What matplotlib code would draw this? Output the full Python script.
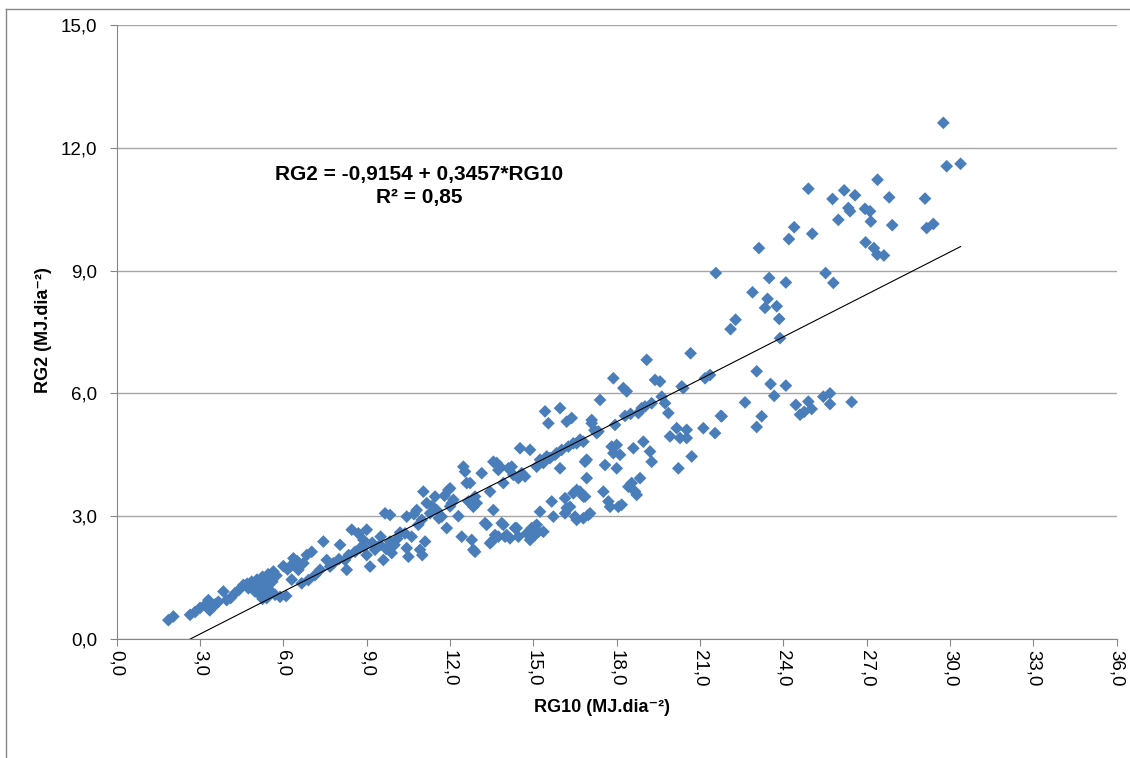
import numpy as np
import matplotlib
matplotlib.use("Agg")
import matplotlib.pyplot as plt
from matplotlib.lines import Line2D
from matplotlib.ticker import FuncFormatter

plt.rcParams['font.family'] = ['Liberation Sans', 'DejaVu Sans']

# coefficienti della retta di regressione
intercept = -0.9154
slope = 0.3457
r2 = 0.85

# coppie (RG10, RG2) stimate dal grafico, divise per zona
obs_low = [
    (1.86, 0.46), (2.04, 0.55), (2.64, 0.59), (2.82, 0.66), (3.00, 0.76),
    (3.18, 0.83), (3.30, 0.95), (3.48, 0.79), (3.66, 0.91), (3.84, 1.16),
    (3.96, 0.95), (4.26, 1.12), (4.56, 1.32), (4.74, 1.24), (4.86, 1.40),
    (4.98, 1.16), (5.10, 1.28), (5.22, 1.44), (5.34, 1.16), (5.46, 1.32),
    (5.52, 1.52), (5.64, 1.65), (5.70, 1.08), (5.88, 1.03), (5.40, 1.00),
    (5.20, 1.05), (5.00, 1.30), (5.30, 1.40), (5.50, 1.20), (4.90, 1.25),
    (5.15, 1.10), (6.24, 1.77), (6.36, 1.97), (6.54, 1.69), (6.72, 1.85),
    (6.84, 2.05), (7.02, 2.13), (6.66, 1.36), (6.90, 1.44), (7.14, 1.56),
    (7.32, 1.69), (7.44, 2.38), (6.40, 1.83), (6.00, 1.78), (6.10, 1.05),
    (6.30, 1.45), (5.25, 1.52), (5.45, 1.58), (4.40, 1.20), (3.55, 0.85),
    (5.05, 1.45), (5.35, 1.25), (5.60, 1.40), (4.70, 1.35), (5.25, 0.98),
    (5.75, 1.55), (6.15, 1.70), (6.50, 1.90), (3.35, 0.70), (4.10, 1.00),
]

obs_mid = [
    (7.56, 1.93), (7.68, 1.77), (7.80, 1.85), (8.04, 2.30), (8.22, 1.93),
    (8.28, 1.69), (8.46, 2.67), (8.58, 2.13), (8.70, 2.58), (8.76, 2.22),
    (8.88, 2.42), (9.00, 2.67), (9.00, 2.05), (9.12, 1.77), (9.30, 2.18),
    (9.48, 2.30), (9.60, 1.93), (9.66, 3.07), (9.84, 3.03), (9.84, 2.38),
    (9.90, 2.10), (10.10, 2.45), (10.38, 2.58), (10.44, 2.99), (10.44, 2.22),
    (10.50, 2.01), (10.62, 2.50), (10.80, 3.15), (10.86, 2.79), (10.92, 2.18),
    (10.98, 2.91), (11.04, 3.60), (11.10, 2.38), (11.16, 3.32), (11.28, 3.07),
    (11.46, 3.48), (11.52, 3.15), (11.70, 2.99), (11.88, 2.71), (11.94, 3.64),
    (12.00, 3.24), (12.12, 3.40), (12.42, 2.50), (12.48, 4.21), (12.54, 4.09),
    (12.60, 3.81), (12.66, 3.36), (12.78, 2.42), (12.84, 2.18), (12.90, 3.48),
    (13.14, 4.05), (13.26, 2.83), (13.44, 3.60), (13.50, 2.38), (13.56, 3.15),
    (8.00, 1.95), (8.35, 2.05), (8.90, 2.25), (9.20, 2.35), (9.50, 2.50),
    (11.00, 2.05), (10.70, 3.05), (11.35, 3.25), (11.60, 2.95), (11.80, 3.50),
    (12.30, 3.00), (12.00, 3.68), (12.06, 3.32), (12.72, 3.81), (12.84, 3.23),
    (12.96, 3.32), (12.90, 2.13), (13.32, 2.79), (13.44, 2.34), (9.70, 2.20),
    (10.20, 2.60), (10.00, 2.30),
]

obs_high = [
    (13.62, 2.54), (13.68, 4.30), (13.80, 4.21), (13.86, 2.83), (13.92, 3.81),
    (14.04, 2.54), (14.22, 4.21), (14.28, 4.01), (14.34, 2.71), (14.52, 4.66),
    (14.58, 4.05), (14.70, 3.97), (14.82, 2.58), (14.88, 4.62), (14.88, 2.42),
    (15.06, 2.75), (15.12, 4.21), (15.24, 3.11), (15.24, 4.38), (15.36, 2.62),
    (15.42, 5.56), (15.48, 4.46), (15.54, 5.27), (15.72, 2.99), (15.78, 4.50),
    (15.96, 5.64), (15.96, 4.17), (16.02, 4.62), (16.14, 3.44), (16.14, 3.07),
    (16.20, 5.31), (16.26, 4.70), (16.32, 3.23), (16.38, 5.40), (16.44, 3.56),
    (16.50, 2.99), (16.56, 4.78), (16.68, 4.87), (16.68, 3.60), (16.80, 2.95),
    (16.86, 3.48), (16.92, 4.38), (16.92, 3.93), (16.98, 3.03), (17.10, 5.27),
    (17.34, 5.07), (17.40, 5.84), (17.52, 3.60), (17.58, 4.25), (17.70, 3.36),
    (17.76, 3.23), (17.82, 4.70), (17.88, 6.37), (17.94, 5.23), (17.88, 4.54),
    (18.00, 4.74), (18.00, 4.17), (18.06, 3.23), (18.12, 4.50), (18.18, 3.28),
    (18.24, 6.13), (18.36, 6.05), (18.42, 3.72), (18.54, 3.81), (18.60, 4.66),
    (18.66, 3.60), (18.72, 3.52), (18.78, 5.52), (18.84, 3.93), (18.90, 5.64),
    (18.96, 4.82), (19.02, 5.68), (19.08, 6.82), (19.20, 4.58), (19.26, 5.76),
    (19.26, 4.33), (19.38, 6.33), (19.56, 6.29), (19.62, 5.92), (19.74, 5.76),
    (19.86, 5.52), (19.92, 4.95), (20.16, 5.15), (20.22, 4.17), (20.28, 4.91),
    (20.34, 6.17), (20.40, 6.13), (20.52, 5.11), (20.52, 4.91), (20.70, 4.46),
    (21.12, 5.15), (21.18, 6.37), (21.36, 6.45), (21.54, 5.03), (21.78, 5.44),
    (20.66, 6.98), (13.74, 2.50), (13.92, 2.79), (13.98, 2.50), (14.16, 2.46),
    (14.40, 2.71), (14.46, 2.50), (14.76, 2.58), (14.94, 2.71), (15.12, 2.79),
    (15.18, 2.62), (15.06, 2.54), (15.66, 3.36), (16.20, 3.20), (16.56, 3.64),
    (16.80, 3.48), (17.04, 3.07), (16.56, 2.91), (16.86, 4.33), (17.10, 5.35),
    (17.28, 5.03), (13.56, 4.33), (13.74, 4.13), (14.10, 4.17), (14.46, 3.93),
    (15.36, 4.30), (15.60, 4.42), (15.84, 4.54), (16.44, 4.78), (16.80, 4.82),
    (18.30, 5.45), (18.50, 5.50), (17.20, 5.10),
]

obs_top = [
    (29.76, 12.61), (29.88, 11.55), (30.38, 11.61), (24.90, 11.00), (27.39, 11.22),
    (25.77, 10.75), (26.19, 10.96), (26.58, 10.84), (26.34, 10.53), (26.40, 10.45),
    (26.94, 10.51), (27.12, 10.45), (27.81, 10.79), (29.10, 10.76), (25.98, 10.24),
    (27.15, 10.20), (27.92, 10.11), (29.16, 10.04), (29.40, 10.14), (24.39, 10.06),
    (24.20, 9.77), (25.04, 9.90), (23.12, 9.55), (26.96, 9.69), (27.26, 9.55),
    (27.38, 9.39), (27.62, 9.37), (21.57, 8.94), (25.52, 8.94), (23.49, 8.82),
    (24.09, 8.71), (25.80, 8.70), (22.89, 8.47), (23.43, 8.31), (23.34, 8.09),
    (23.76, 8.13), (23.85, 7.82), (22.28, 7.80), (22.10, 7.57), (23.88, 7.35),
    (23.04, 6.54), (23.54, 6.23), (24.09, 6.19), (23.67, 5.94), (22.62, 5.78),
    (21.75, 5.45), (23.22, 5.44), (24.45, 5.72), (24.60, 5.48), (24.75, 5.55),
    (24.90, 5.80), (25.02, 5.62), (25.44, 5.92), (25.68, 6.00), (25.68, 5.74),
    (26.46, 5.79), (23.04, 5.18),
]

x_ticks = [0, 3, 6, 9, 12, 15, 18, 21, 24, 27, 30, 33, 36]
y_ticks = [0, 3, 6, 9, 12, 15]

data = np.array(obs_low + obs_mid + obs_high + obs_top)
rg10 = data[:, 0]
rg2 = data[:, 1]

blu = '#4a7ebb'
grigio = '#868686'

fig = plt.figure(figsize=(11.3, 7.58), dpi=100)
ax = fig.add_axes([0.1033, 0.157, 0.8849, 0.810])

ax.scatter(rg10, rg2, marker='D', s=42, color=blu, edgecolors='none', zorder=3)

# retta di tendenza, da dove taglia lo zero fino al punto più a destra
xl = np.array([-intercept / slope, rg10.max()])
ax.plot(xl, intercept + slope * xl, color='black', lw=0.8, zorder=4)

ax.set_xlim(0, 36)
ax.set_ylim(0, 15)
ax.set_xticks(x_ticks)
ax.set_yticks(y_ticks)
virgola = FuncFormatter(lambda v, _: f"{v:.1f}".replace('.', ','))
ax.xaxis.set_major_formatter(virgola)
ax.yaxis.set_major_formatter(virgola)
ax.tick_params(axis='x', rotation=-90, labelsize=13.5, length=5, color=grigio, pad=3)
ax.tick_params(axis='y', labelsize=13.5, length=5, color=grigio, pad=9)

ax.yaxis.grid(True, color='#a6a6a6', lw=1)
ax.set_axisbelow(True)
for s in ['top', 'right']:
    ax.spines[s].set_visible(False)
for s in ['left', 'bottom']:
    ax.spines[s].set_color(grigio)

fig.text(602 / 1130, 1 - 707 / 758, "RG10 (MJ.dia⁻²)", fontsize=13,
         fontweight='bold', ha='center', va='center')
fig.text(44 / 1130, 1 - 330 / 758, "RG2 (MJ.dia⁻²)", fontsize=13,
         fontweight='bold', ha='center', va='center', rotation=90)

ax.text(10.88, 11.34, "RG2 = -0,9154 + 0,3457*RG10", fontsize=15,
        fontweight='bold', ha='center', va='center')
ax.text(10.88, 10.78, f"R² = {r2:.2f}".replace('.', ','), fontsize=15,
        fontweight='bold', ha='center', va='center')

# bordo dell'area del grafico
fig.add_artist(Line2D([6 / 1130, 6 / 1130], [0, 1 - 9 / 758],
                      transform=fig.transFigure, color=grigio, lw=1))
fig.add_artist(Line2D([6 / 1130, 1], [1 - 9 / 758, 1 - 9 / 758],
                      transform=fig.transFigure, color=grigio, lw=1))

fig.savefig('out.png', dpi=100)
